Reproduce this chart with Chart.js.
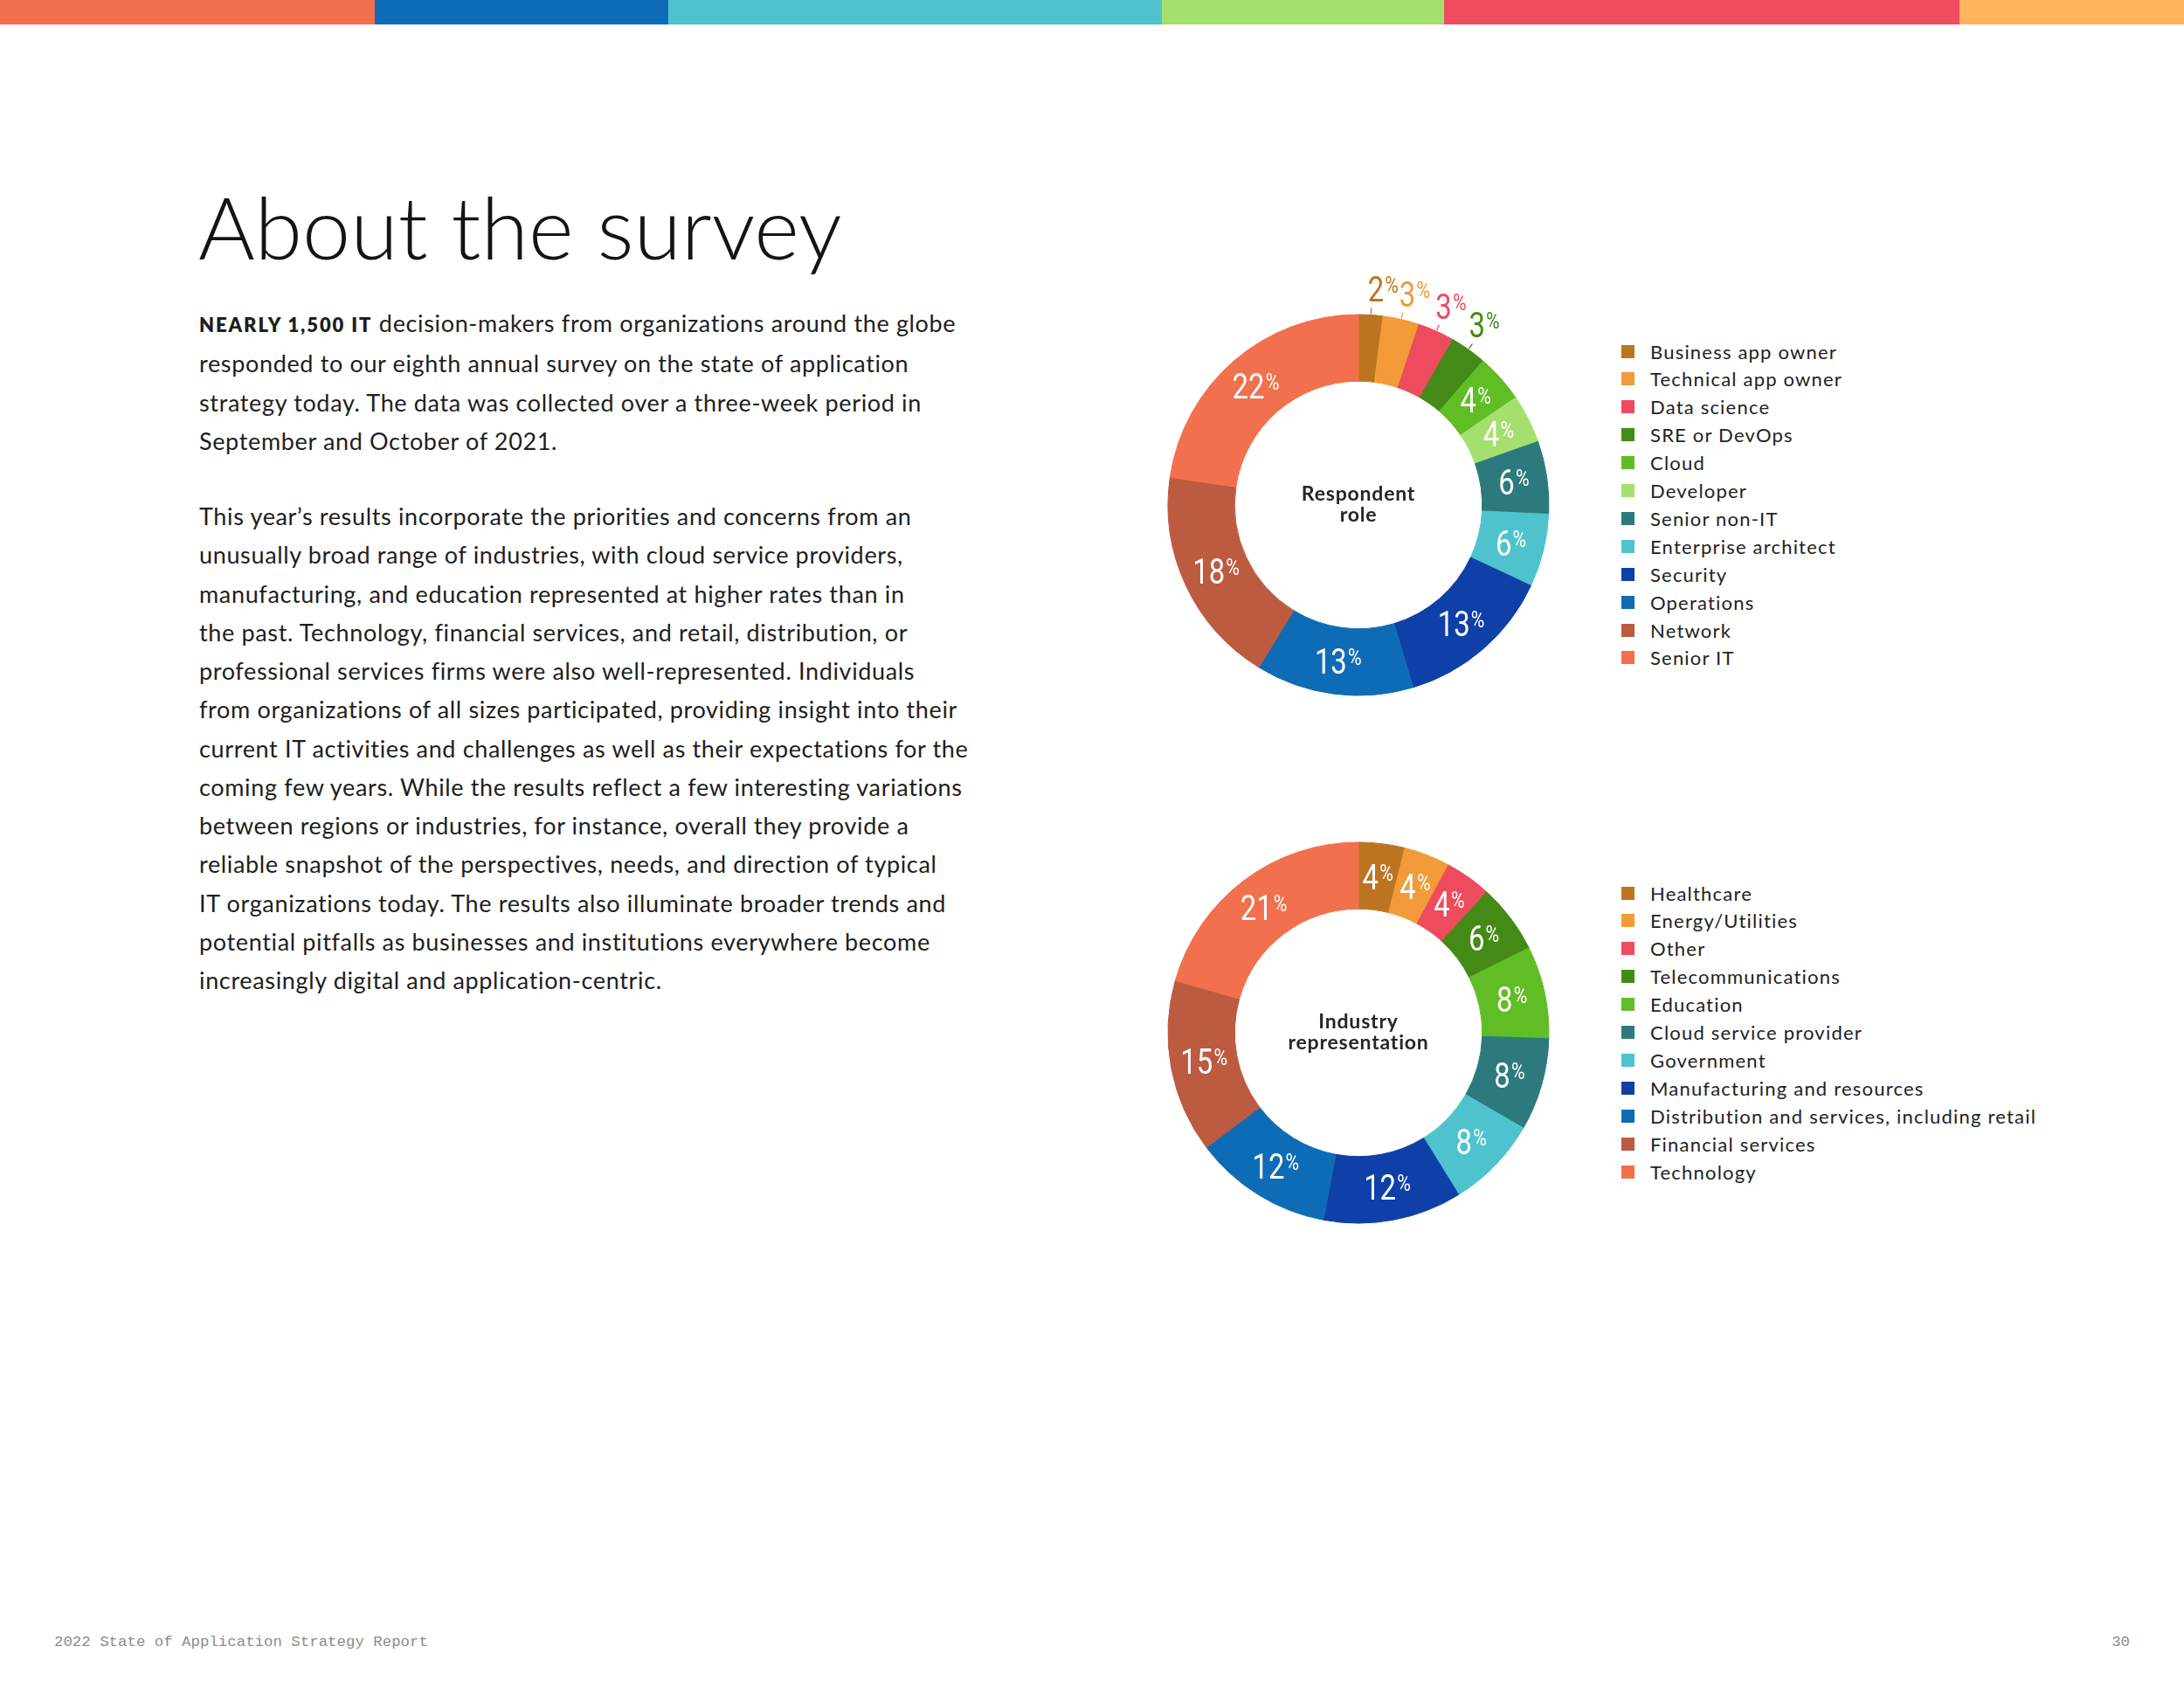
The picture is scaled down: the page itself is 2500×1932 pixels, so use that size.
<!DOCTYPE html>
<html>
<head>
  <meta charset="utf-8">
  <title>About the survey</title>
  <script src="https://cdn.jsdelivr.net/npm/chart.js@4.4.0/dist/chart.umd.min.js"></script>
</head>
<body>

  <style>
    html, body {
      margin: 0;
      padding: 0;
      background: #ffffff;
    }
    body {
      width: 2500px;
      height: 1932px;
      position: relative;
      overflow: hidden;
      font-family: Lato, "Open Sans", sans-serif;
      color: #1e1e1e;
    }
    #topBar {
      position: absolute;
      left: 0;
      top: 0;
      width: 2500px;
      height: 28px;
      display: flex;
    }
    #topBar div { height: 100%; }

    #title {
      position: absolute;
      left: 227px;
      top: 209px;
      margin: 0;
      font-size: 99px;
      line-height: 1;
      font-weight: 300;
      color: #141414;
      white-space: nowrap;
    }
    .copy {
      position: absolute;
      left: 228px;
      margin: 0;
      font-size: 27px;
      line-height: 44.25px;
      letter-spacing: 0.65px;
      white-space: nowrap;
      color: #1e1e1e;
    }
    .copy b {
      font-size: 22px;
      letter-spacing: 1.9px;
      font-weight: 800;
    }

    .chartBox {
      position: absolute;
      left: 1255px;
      width: 600px;
      height: 600px;
    }
    .legend {
      position: absolute;
      left: 1856px;
    }
    .legend .item {
      position: absolute;
      left: 0;
      height: 32px;
      display: flex;
      align-items: center;
      white-space: nowrap;
      font-size: 22px;
      letter-spacing: 1.2px;
      color: #222222;
    }
    .legend .swatch {
      width: 15px;
      height: 15px;
      margin-right: 18px;
      flex: none;
    }

    #footer, #pageNum {
      position: absolute;
      top: 1870px;
      font-family: "Liberation Mono", "DejaVu Sans Mono", monospace;
      font-size: 17.4px;
      color: #8c8c8c;
    }
    #footer { left: 62px; }
    #pageNum { right: 62px; }
  </style>

  <div id="topBar">
    <div style="width:429px; background:#F2704D;"></div>
    <div style="width:336px; background:#0E6CB6;"></div>
    <div style="width:565px; background:#4FC3CD;"></div>
    <div style="width:323px; background:#A5E06F;"></div>
    <div style="width:590px; background:#EE4B5E;"></div>
    <div style="width:257px; background:#FFB45E;"></div>
  </div>

  <h1 id="title">About the survey</h1>

  <p class="copy" style="top:348px;"><b>NEARLY 1,500 IT</b> decision-makers from organizations around the globe<br>responded to our eighth annual survey on the state of application<br>strategy today. The data was collected over a three-week period in<br>September and October of 2021.</p>

  <p class="copy" style="top:569px;">This year’s results incorporate the priorities and concerns from an<br>unusually broad range of industries, with cloud service providers,<br>manufacturing, and education represented at higher rates than in<br>the past. Technology, financial services, and retail, distribution, or<br>professional services firms were also well-represented. Individuals<br>from organizations of all sizes participated, providing insight into their<br>current IT activities and challenges as well as their expectations for the<br>coming few years. While the results reflect a few interesting variations<br>between regions or industries, for instance, overall they provide a<br>reliable snapshot of the perspectives, needs, and direction of typical<br>IT organizations today. The results also illuminate broader trends and<br>potential pitfalls as businesses and institutions everywhere become<br>increasingly digital and application-centric.</p>

  <canvas id="roleChart" class="chartBox" width="600" height="600" style="top:278px;"></canvas>
  <div id="roleLegend" class="legend" style="top:386px;"></div>

  <canvas id="industryChart" class="chartBox" width="600" height="600" style="top:882px;"></canvas>
  <div id="industryLegend" class="legend" style="top:1006px;"></div>

  <div id="footer">2022 State of Application Strategy Report</div>
  <div id="pageNum">30</div>

  <script>
    // respondent role (percent)
    const roleLabels = ["Business app owner", "Technical app owner", "Data science", "SRE or DevOps", "Cloud", "Developer", "Senior non-IT", "Enterprise architect", "Security", "Operations", "Network", "Senior IT"];
    const roleValues = [2, 3, 3, 3, 4, 4, 6, 6, 13, 13, 18, 22];
    const roleColors = ["#BC7421", "#F29B38", "#EE4B5E", "#438B16", "#61BD26", "#A5E06F", "#2C7A7E", "#4FC3CD", "#0F40A8", "#0E6CB6", "#BC5B3F", "#F2704D"];

    // industry representation (percent)
    const industryLabels = ["Healthcare", "Energy/Utilities", "Other", "Telecommunications", "Education", "Cloud service provider", "Government", "Manufacturing and resources", "Distribution and services, including retail", "Financial services", "Technology"];
    const industryValues = [4, 4, 4, 6, 8, 8, 8, 12, 12, 15, 21];
    const industryColors = ["#BC7421", "#F29B38", "#EE4B5E", "#438B16", "#61BD26", "#2C7A7E", "#4FC3CD", "#0F40A8", "#0E6CB6", "#BC5B3F", "#F2704D"];

    // condensed look for the numbers: Roboto squeezed horizontally
    const numFont = "40px Roboto, 'Liberation Sans', sans-serif";
    const pctFont = "26px Roboto, 'Liberation Sans', sans-serif";
    const squeeze = 0.82;
    const capHeight = 28.5;
    const pctCap = 18.5;

    function drawValue(ctx, value, left, baseline, color) {
      ctx.save();
      ctx.fillStyle = color;
      ctx.textAlign = "left";
      ctx.textBaseline = "alphabetic";
      ctx.translate(left, baseline);
      ctx.scale(squeeze, 1);
      ctx.font = numFont;
      ctx.fillText(value, 0, 0);
      let w = ctx.measureText(value).width;
      ctx.font = pctFont;
      ctx.fillText("%", w + 1.5, -capHeight + pctCap);
      ctx.restore();
    }

    function valueWidth(ctx, value) {
      ctx.save();
      ctx.font = numFont;
      let w = ctx.measureText(value).width;
      ctx.font = pctFont;
      w += 1.5 + ctx.measureText("%").width;
      ctx.restore();
      return w * squeeze;
    }

    // percentage labels: inside the ring, or outside with a small tick for thin slices
    const sliceLabels = {
      id: "sliceLabels",
      afterDatasetsDraw(chart) {
        let ctx = chart.ctx;
        let ds = chart.data.datasets[0];
        let arcs = chart.getDatasetMeta(0).data;
        ctx.save();
        arcs.forEach((arc, i) => {
          let p = arc.getProps(["x", "y", "startAngle", "endAngle", "innerRadius", "outerRadius"], true);
          let mid = (p.startAngle + p.endAngle) / 2;
          let value = String(ds.data[i]);
          if(ds.data[i] >= 4) {
            let r = (p.innerRadius + p.outerRadius) / 2;
            let cx = p.x + Math.cos(mid) * r;
            let cy = p.y + Math.sin(mid) * r;
            drawValue(ctx, value, cx - valueWidth(ctx, value) / 2, cy + capHeight / 2, "#ffffff");
          } else {
            let x0 = p.x + Math.cos(mid) * (p.outerRadius + 1);
            let y0 = p.y + Math.sin(mid) * (p.outerRadius + 1);
            let x1 = p.x + Math.cos(mid) * (p.outerRadius + 8);
            let y1 = p.y + Math.sin(mid) * (p.outerRadius + 8);
            ctx.strokeStyle = ds.backgroundColor[i];
            ctx.lineWidth = 1.3;
            ctx.beginPath();
            ctx.moveTo(x0, y0);
            ctx.lineTo(x1, y1);
            ctx.stroke();
            drawValue(ctx, value, x1 - 4, y1 - 7, ds.backgroundColor[i]);
          }
        });
        ctx.restore();
      }
    };

    const centerTitle = {
      id: "centerTitle",
      afterDatasetsDraw(chart, args, opts) {
        let ctx = chart.ctx;
        let arc = chart.getDatasetMeta(0).data[0];
        ctx.save();
        ctx.font = "bold 23px Lato, sans-serif";
        ctx.letterSpacing = "0.8px";
        ctx.fillStyle = "#262626";
        ctx.textAlign = "center";
        ctx.textBaseline = "alphabetic";
        ctx.fillText(opts.lines[0], arc.x, arc.y - 5);
        ctx.fillText(opts.lines[1], arc.x, arc.y + 19);
        ctx.restore();
      }
    };

    function createDonut(canvasId, labels, values, colors, title) {
      return new Chart(document.getElementById(canvasId), {
        type: "doughnut",
        plugins: [sliceLabels, centerTitle],
        data: {
          labels: labels,
          datasets: [{
            data: values,
            backgroundColor: colors,
            borderColor: colors,
            borderWidth: 1
          }]
        },
        options: {
          responsive: false,
          animation: false,
          events: [],
          radius: 218,
          cutout: "65%",
          layout: { padding: 0 },
          plugins: {
            legend: { display: false },
            tooltip: { enabled: false },
            centerTitle: { lines: title }
          }
        }
      });
    }

    function buildLegend(elId, labels, colors) {
      let el = document.getElementById(elId);
      labels.forEach((label, i) => {
        let item = document.createElement("div");
        item.className = "item";
        item.style.top = (i * 31.9) + "px";
        item.innerHTML = `<span class="swatch" style="background:${colors[i]};"></span><span>${label}</span>`;
        el.append(item);
      });
    }

    createDonut("roleChart", roleLabels, roleValues, roleColors, ["Respondent", "role"]);
    createDonut("industryChart", industryLabels, industryValues, industryColors, ["Industry", "representation"]);
    buildLegend("roleLegend", roleLabels, roleColors);
    buildLegend("industryLegend", industryLabels, industryColors);
  </script>
</body>
</html>
